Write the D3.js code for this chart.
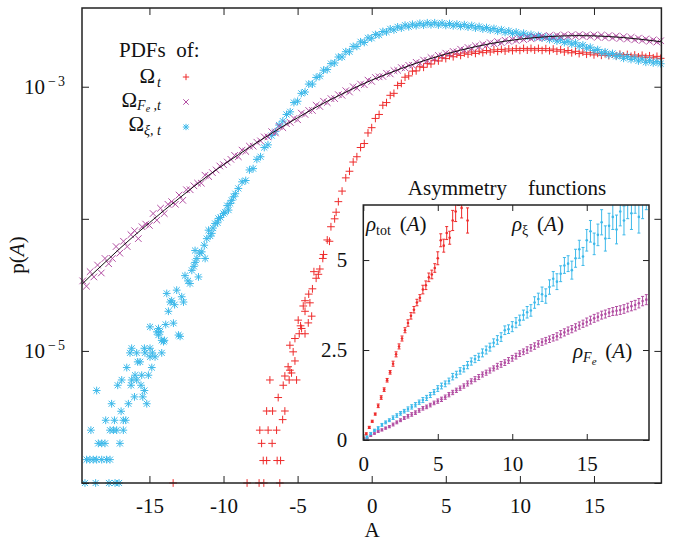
<!DOCTYPE html>
<html>
<head>
<meta charset="utf-8">
<script src="https://cdn.jsdelivr.net/npm/d3@7"></script>
<style>
  body { margin: 0; background: #fff; }
  svg text { font-family: "Liberation Serif", "Times New Roman", serif; fill: #111; }
</style>
</head>
<body>
<div id="chart"></div>
<script>
// ---- main panel: log10 p(A), regular grid in A ----
var feStart = -19.5, feStep = 0.25;
var pdfFe = [
  -4.47,-4.51,-4.40,-4.44,-4.35,-4.41,-4.30,-4.34,
  -4.30,-4.21,-4.26,-4.17,-4.21,-4.12,-4.09,-4.15,
  -4.06,-4.04,-4.05,-3.96,-4.01,-3.92,-3.96,-3.89,
  -3.87,-3.89,-3.82,-3.86,-3.78,-3.78,-3.75,-3.73,
  -3.73,-3.67,-3.68,-3.65,-3.63,-3.60,-3.59,-3.57,
  -3.55,-3.52,-3.53,-3.48,-3.49,-3.45,-3.45,-3.42,
  -3.41,-3.38,-3.38,-3.34,-3.35,-3.30,-3.31,-3.28,
  -3.27,-3.24,-3.25,-3.20,-3.21,-3.18,-3.18,-3.14,
  -3.15,-3.11,-3.12,-3.09,-3.09,-3.06,-3.065,-3.03,
  -3.04,-3.0,-3.01,-2.98,-2.985,-2.95,-2.96,-2.93,
  -2.925,-2.922,-2.898,-2.903,-2.878,-2.876,-2.855,-2.858,
  -2.838,-2.837,-2.815,-2.822,-2.798,-2.802,-2.779,-2.787,
  -2.763,-2.767,-2.746,-2.752,-2.733,-2.737,-2.716,-2.724,
  -2.703,-2.71,-2.69,-2.697,-2.679,-2.687,-2.667,-2.675,
  -2.658,-2.667,-2.648,-2.657,-2.641,-2.65,-2.633,-2.643,
  -2.627,-2.637,-2.621,-2.632,-2.617,-2.627,-2.613,-2.624,
  -2.611,-2.621,-2.608,-2.619,-2.607,-2.618,-2.606,-2.619,
  -2.608,-2.62,-2.608,-2.625,-2.609,-2.628,-2.613,-2.631,
  -2.616,-2.635,-2.621,-2.639,-2.626,-2.645,-2.632,-2.65,
  -2.638,-2.656,-2.645,-2.662,-2.652
];

var xiStart = -9, xiStep = 0.25;
var pdfXi = [
  -3.77,-3.72,-3.71,-3.63,-3.62,-3.55,-3.53,-3.46,
  -3.44,-3.37,-3.34,-3.29,-3.26,-3.21,-3.19,-3.12,
  -3.11,-3.05,-3.04,-2.98,-2.98,-2.93,-2.92,-2.875,
  -2.87,-2.825,-2.82,-2.775,-2.775,-2.735,-2.735,-2.695,
  -2.695,-2.66,-2.665,-2.63,-2.633,-2.605,-2.608,-2.582,
  -2.586,-2.562,-2.57,-2.547,-2.556,-2.534,-2.546,-2.527,
  -2.538,-2.52,-2.534,-2.516,-2.531,-2.516,-2.533,-2.518,
  -2.536,-2.522,-2.539,-2.526,-2.544,-2.53,-2.549,-2.536,
  -2.556,-2.544,-2.563,-2.552,-2.571,-2.559,-2.58,-2.568,
  -2.589,-2.577,-2.598,-2.586,-2.607,-2.595,-2.616,-2.604,
  -2.624,-2.612,-2.632,-2.622,-2.643,-2.632,-2.654,-2.644,
  -2.666,-2.656,-2.677,-2.668,-2.693,-2.684,-2.708,-2.701,
  -2.726,-2.719,-2.743,-2.736,-2.758,-2.748,-2.77,-2.762,
  -2.785,-2.772,-2.794,-2.782,-2.805,-2.79,-2.815,-2.80,
  -2.82,-2.81,-2.826
];
// sparse left tail of the xi pdf: [A, log10 p]
var tailXi = [
  [-19.35,-6.0],[-18.63,-6.0],[-17.73,-6.0],[-17.32,-6.0],[-17.05,-6.0],
  [-19.24,-5.823],[-19.02,-5.823],[-18.79,-5.823],[-18.56,-5.823],[-18.22,-5.823],[-17.89,-5.823],[-17.66,-5.823],
  [-18.45,-5.70],[-18.22,-5.70],[-18.0,-5.70],[-16.99,-5.70],
  [-18.95,-5.60],[-17.66,-5.60],[-17.43,-5.60],[-17.21,-5.60],[-16.76,-5.60],
  [-17.95,-5.525],[-17.36,-5.525],[-16.76,-5.525],[-16.6,-5.525],
  [-16.91,-5.457],[-17.55,-5.40],[-16.42,-5.40],[-15.18,-5.40],
  [-16.01,-5.348],[-15.45,-5.348],[-18.56,-5.30],[-15.34,-5.30],
  [-17.14,-5.26],[-16.24,-5.26],[-15.57,-5.26],
  [-16.87,-5.22],[-16.2,-5.22],[-15.86,-5.22],
  [-15.97,-5.184],[-15.52,-5.184],[-15.07,-5.184],
  [-16.53,-5.126],[-14.84,-5.126],[-15.79,-5.083],[-15.63,-5.083],
  [-14.96,-5.045],[-14.62,-5.045],
  [-16.31,-5.015],[-15.86,-5.015],[-15.3,-5.015],[-14.8,-5.015],[-14.17,-5.015],
  [-16.2,-4.98],[-15.34,-4.98],[-14.96,-4.98],
  [-14.17,-4.92],[-13.99,-4.92],[-14.05,-4.93],[-12.93,-4.89],[-13.04,-4.88],[-14.39,-4.88],
  [-14.5,-4.856],[-14.28,-4.856],[-14.39,-4.83],[-14.96,-4.818],[-13.38,-4.79],
  [-13.9,-4.80],[-13.72,-4.70],[-13.6,-4.63],[-12.7,-4.63],[-13.5,-4.62],[-13.3,-4.65],
  [-12.82,-4.59],[-13.83,-4.565],[-13.16,-4.54],[-12.26,-4.49],[-12.4,-4.47],
  [-11.69,-4.44],[-12.6,-4.43],[-12.14,-4.39],[-12.0,-4.36],[-11.92,-4.33],
  [-11.8,-4.30],[-11.24,-4.30],[-11.6,-4.26],[-11.47,-4.25],[-11.92,-4.24],
  [-11.3,-4.20],[-11.13,-4.15],[-10.9,-4.13],[-10.79,-4.11],[-11.01,-4.086],
  [-10.7,-4.07],[-10.57,-4.035],[-10.4,-4.03],[-10.34,-3.997],[-10.2,-3.99],
  [-10.0,-3.96],[-9.9,-3.95],[-9.66,-3.934],[-9.75,-3.90],[-9.55,-3.884],
  [-9.45,-3.86],[-9.32,-3.833],[-9.2,-3.81]
];

var totStart = -4.5, totStep = 0.25;
var pdfTot = [
  -4.62,-4.57,-4.53,-4.45,-4.38,-4.27,-4.16,-4.06,
  -4.00,-3.87,-3.79,-3.69,-3.64,-3.57,-3.53,-3.46,
  -3.43,-3.35,-3.31,-3.24,-3.21,-3.14,-3.12,-3.065,
  -3.05,-2.99,-2.975,-2.928,-2.918,-2.882,-2.88,-2.849,
  -2.853,-2.825,-2.828,-2.8,-2.805,-2.781,-2.787,-2.765,
  -2.773,-2.753,-2.763,-2.745,-2.754,-2.737,-2.748,-2.731,
  -2.742,-2.726,-2.737,-2.721,-2.733,-2.717,-2.73,-2.714,
  -2.727,-2.712,-2.725,-2.71,-2.723,-2.71,-2.723,-2.71,
  -2.725,-2.712,-2.727,-2.715,-2.731,-2.72,-2.737,-2.726,
  -2.743,-2.732,-2.749,-2.738,-2.754,-2.743,-2.759,-2.747,
  -2.762,-2.75,-2.764,-2.752,-2.766,-2.754,-2.768,-2.756,
  -2.77,-2.76,-2.774,-2.762,-2.777,-2.766,-2.781,-2.77,
  -2.785
];
var tailTot = [
  [-4.62,-4.66],[-4.17,-4.636],[-4.05,-4.737],[-4.5,-4.70],[-4.96,-4.767],[-4.28,-4.788],
  [-4.8,-4.81],[-4.73,-4.83],[-4.5,-4.87],[-4.89,-4.87],[-5.18,-4.906],[-5.52,-4.957],
  [-5.3,-5.007],[-5.18,-5.076],[-5.64,-5.12],[-5.52,-5.146],[-5.41,-5.167],[-5.86,-5.19],
  [-5.57,-5.22],[-5.07,-5.22],[-6.87,-5.22],[-5.97,-5.26],[-6.31,-5.353],
  [-7.09,-5.455],[-6.69,-5.455],[-5.86,-5.455],[-6.01,-5.52],
  [-7.55,-5.60],[-6.99,-5.60],[-6.42,-5.60],[-7.43,-5.70],[-6.72,-5.70],
  [-7.32,-5.83],[-7.09,-5.83],[-6.38,-5.83],[-6.15,-5.83],
  [-8.41,-6.0],[-7.6,-6.0],[-7.28,-6.0],[-6.2,-6.0],[-13.4,-6.0],
  [-3.9,-4.40],[-3.6,-4.42],[-3.3,-4.30],[-2.85,-4.17],[-2.4,-3.95]
];

// fitted curve through the F_e pdf
var fitA = [-19.55,-19,-18,-17,-16,-15,-14,-13,-12,-11,-10,-9,-8,-7,-6,-5,-4,-3,-2,-1,
            0,1,2,3,4,5,6,7,8,9,10,11,12,13,14,15,16,17,18,19,19.55];
var fitLog = [-4.495,-4.435,-4.33,-4.225,-4.125,-4.03,-3.935,-3.845,-3.755,-3.67,-3.59,-3.515,
              -3.44,-3.37,-3.30,-3.235,-3.17,-3.11,-3.055,-3.0,-2.95,-2.905,-2.862,-2.822,
              -2.786,-2.753,-2.723,-2.697,-2.674,-2.655,-2.64,-2.628,-2.62,-2.615,-2.613,
              -2.615,-2.62,-2.628,-2.639,-2.652,-2.66];

// ---- inset: asymmetry functions ----
var rhoStep = 0.25;
var rhoXi = [
  0.0,0.08,0.18,0.27,0.33,0.42,0.49,0.55,0.62,0.68,0.74,0.80,0.86,0.92,0.98,1.05,
  1.11,1.17,1.25,1.33,1.43,1.50,1.56,1.64,1.76,1.82,1.92,1.98,2.08,2.18,2.25,2.31,
  2.42,2.50,2.58,2.70,2.78,2.86,3.05,3.08,3.15,3.26,3.33,3.47,3.55,3.60,3.82,3.92,
  4.05,4.00,4.25,4.48,4.40,4.62,4.85,4.90,4.72,5.05,5.30,5.10,5.55,5.80,5.45,5.70,
  6.05,5.60,5.95,6.20,5.85,6.35,6.10,6.55,6.30,6.75,6.20,6.60,6.90
];
var rhoFe = [
  0.0,0.05,0.12,0.18,0.24,0.28,0.33,0.37,0.43,0.49,0.55,0.61,0.66,0.71,0.76,0.82,
  0.88,0.92,0.97,1.03,1.08,1.13,1.19,1.26,1.32,1.38,1.44,1.50,1.57,1.63,1.69,1.75,
  1.82,1.87,1.93,1.99,2.05,2.10,2.15,2.21,2.27,2.33,2.40,2.45,2.50,2.56,2.61,2.67,
  2.72,2.76,2.80,2.84,2.88,2.94,2.99,3.04,3.08,3.13,3.18,3.23,3.28,3.33,3.38,3.42,
  3.47,3.50,3.54,3.57,3.59,3.61,3.64,3.68,3.72,3.75,3.80,3.86,3.90
];
var rhoTotStep = 0.2;
var rhoTot = [
  0.05,0.17,0.35,0.52,0.72,0.95,1.18,1.40,1.66,1.88,2.12,2.38,2.60,2.82,3.05,3.25,
  3.45,3.62,3.82,3.95,4.18,4.30,4.52,4.60,4.78,5.05,5.55,5.40,5.75,5.62,6.10,6.35,
  6.80,6.45,7.0,6.1
];
// error bar half-widths, one per unit of A
var errXi = [0.03,0.04,0.05,0.06,0.07,0.08,0.09,0.1,0.11,0.12,0.14,0.16,0.2,0.22,0.25,0.3,0.35,0.4,0.45,0.5];
var errFe = [0.02,0.03,0.04,0.05,0.05,0.06,0.06,0.07,0.07,0.08,0.08,0.09,0.09,0.1,0.1,0.11,0.11,0.12,0.13,0.14];
var errTot = [0.03,0.05,0.07,0.09,0.12,0.18,0.28,0.35];

var mainTicksX = [-15, -10, -5, 0, 5, 10, 15];
var mainTicksY = [1e-6, 1e-5, 1e-4, 1e-3];
var mainLabelsY = [{v: 1e-3, e: "3"}, {v: 1e-5, e: "5"}];
var insetTicksX = [0, 5, 10, 15];
var insetTicksY = [0, 2.5, 5];

var colTot = "#ee2b2b", colFe = "#b24ea2", colXi = "#3db9ea";
var axisCol = "#222";
var serif = "'Liberation Serif', 'Times New Roman', serif";
var fs = 21;

var svg = d3.select("#chart").append("svg").attr("width", 682).attr("height", 541)
  .attr("font-family", serif);

var x = d3.scaleLinear().domain([-19.55, 19.55]).range([82, 661.4]);
var y = d3.scaleLog().domain([1e-6, Math.pow(10, -2.404)]).range([483, 8]);

// point symbols
var plusSym = {draw: function(c, s) {
  var r = Math.sqrt(s) / 2;
  c.moveTo(-r, 0); c.lineTo(r, 0); c.moveTo(0, -r); c.lineTo(0, r);
}};
var crossSym = {draw: function(c, s) {
  var r = Math.sqrt(s) / 2 * 0.85;
  c.moveTo(-r, -r); c.lineTo(r, r); c.moveTo(-r, r); c.lineTo(r, -r);
}};
var starSym = {draw: function(c, s) {
  plusSym.draw(c, s); crossSym.draw(c, s * 0.85);
}};

function gridPts(start, step, vals) {
  return vals.map(function(v, i) { return {a: start + i * step, p: Math.pow(10, v)}; });
}
function pairPts(arr) {
  return arr.map(function(d) { return {a: d[0], p: Math.pow(10, d[1])}; });
}

function drawPoints(pts, sym, size, color) {
  svg.append("g").selectAll("path").data(pts).enter().append("path")
    .attr("transform", function(d) { return "translate(" + x(d.a) + "," + y(d.p) + ")"; })
    .attr("d", d3.symbol().type(sym).size(size))
    .attr("fill", "none")
    .attr("stroke", color)
    .attr("stroke-width", 1);
}

drawPoints(gridPts(totStart, totStep, pdfTot).concat(pairPts(tailTot)), plusSym, 60, colTot);
drawPoints(gridPts(xiStart, xiStep, pdfXi).concat(pairPts(tailXi)), starSym, 60, colXi);
drawPoints(gridPts(feStart, feStep, pdfFe), crossSym, 60, colFe);

// fit line
svg.append("path")
  .datum(fitA.map(function(a, i) { return {a: a, p: Math.pow(10, fitLog[i])}; }))
  .attr("fill", "none")
  .attr("stroke", "#111")
  .attr("stroke-width", 1)
  .attr("d", d3.line().curve(d3.curveMonotoneX)
    .x(function(d) { return x(d.a); })
    .y(function(d) { return y(d.p); }));

// axes, ticks pointing inwards
function styleAxis(g) {
  g.select(".domain").remove();
  g.selectAll("line").attr("stroke", axisCol);
  g.attr("font-family", serif).attr("font-size", fs);
}
svg.append("g").attr("transform", "translate(0,483)")
  .call(d3.axisBottom(x).tickValues(mainTicksX).tickSize(-7).tickPadding(15).tickFormat(d3.format("d")))
  .call(styleAxis);
svg.append("g").attr("transform", "translate(0,8)")
  .call(d3.axisTop(x).tickValues(mainTicksX).tickSize(-7).tickFormat(""))
  .call(styleAxis);
svg.append("g").attr("transform", "translate(82,0)")
  .call(d3.axisLeft(y).tickValues(mainTicksY).tickSize(-7).tickFormat(""))
  .call(styleAxis);
svg.append("g").attr("transform", "translate(661.4,0)")
  .call(d3.axisRight(y).tickValues(mainTicksY).tickSize(-7).tickFormat(""))
  .call(styleAxis);
svg.selectAll(".tick text").text(function() { return this.textContent.replace("\u2212", "-"); });

svg.append("rect").attr("x", 82).attr("y", 8).attr("width", 661.4 - 82).attr("height", 475)
  .attr("fill", "none").attr("stroke", axisCol).attr("stroke-width", 1.5);

// y tick labels 10^-n
mainLabelsY.forEach(function(d) {
  var t = svg.append("text").attr("x", 65).attr("y", y(d.v) + 7).attr("text-anchor", "end").attr("font-size", fs);
  t.append("tspan").text("10");
  t.append("tspan").attr("dy", -8).attr("dx", 3).attr("font-size", 14).text("\u2212");
  t.append("tspan").attr("dx", 2).attr("font-size", 14).text(d.e);
});

// axis titles
svg.append("text").attr("x", 372).attr("y", 537).attr("text-anchor", "middle").attr("font-size", fs).text("A");
var yl = svg.append("text").attr("transform", "translate(24,255) rotate(-90)")
  .attr("text-anchor", "middle").attr("font-size", fs);
yl.append("tspan").text("p(");
yl.append("tspan").attr("font-style", "italic").text("A");
yl.append("tspan").text(")");

// legend
svg.append("text").attr("x", 119).attr("y", 57).attr("font-size", fs)
  .style("white-space", "pre").text("PDFs  of:");
var l1 = svg.append("text").attr("x", 161).attr("y", 83).attr("text-anchor", "end").attr("font-size", fs);
l1.append("tspan").text("\u03a9");
l1.append("tspan").attr("dy", 4).attr("dx", 2).attr("font-size", 14).attr("font-style", "italic").text("t");
var l2 = svg.append("text").attr("x", 161).attr("y", 107).attr("text-anchor", "end").attr("font-size", fs);
l2.append("tspan").text("\u03a9");
l2.append("tspan").attr("dy", 3).attr("font-size", 14).attr("font-style", "italic").text("F");
l2.append("tspan").attr("dy", 2).attr("font-size", 10).attr("font-style", "italic").text("e");
l2.append("tspan").attr("dy", -2).attr("font-size", 14).attr("font-style", "italic").style("white-space", "pre").text(" ,t");
var l3 = svg.append("text").attr("x", 161).attr("y", 131).attr("text-anchor", "end").attr("font-size", fs);
l3.append("tspan").text("\u03a9");
l3.append("tspan").attr("dy", 4).attr("font-size", 14).attr("font-style", "italic").text("\u03be, t");

[[plusSym, colTot, 77], [crossSym, colFe, 102], [starSym, colXi, 127]].forEach(function(d) {
  svg.append("path").attr("transform", "translate(186," + d[2] + ")")
    .attr("d", d3.symbol().type(d[0]).size(40))
    .attr("fill", "none").attr("stroke", d[1]).attr("stroke-width", 1);
});

// ---- inset ----
var xi = d3.scaleLinear().domain([0, 19.18]).range([363.3, 649]);
var yi = d3.scaleLinear().domain([0, 6.53]).range([440, 205]);

svg.append("rect").attr("x", 363.3).attr("y", 205).attr("width", 649 - 363.3).attr("height", 235)
  .attr("fill", "#fff");
svg.append("clipPath").attr("id", "insetClip").append("rect")
  .attr("x", 363.3).attr("y", 205).attr("width", 649 - 363.3).attr("height", 235);

function drawRho(vals, step, errs, color) {
  var pts = vals.map(function(v, i) {
    var a = i * step;
    return {a: a, v: v, e: errs[Math.min(Math.floor(a), errs.length - 1)]};
  });
  var g = svg.append("g").attr("clip-path", "url(#insetClip)")
    .attr("stroke", color).attr("stroke-width", 1);
  var eb = g.selectAll("g").data(pts).enter().append("g");
  eb.append("line")
    .attr("x1", function(d) { return xi(d.a); }).attr("x2", function(d) { return xi(d.a); })
    .attr("y1", function(d) { return yi(d.v - d.e); }).attr("y2", function(d) { return yi(d.v + d.e); });
  eb.append("line")
    .attr("x1", function(d) { return xi(d.a) - 1.5; }).attr("x2", function(d) { return xi(d.a) + 1.5; })
    .attr("y1", function(d) { return yi(d.v - d.e); }).attr("y2", function(d) { return yi(d.v - d.e); });
  eb.append("line")
    .attr("x1", function(d) { return xi(d.a) - 1.5; }).attr("x2", function(d) { return xi(d.a) + 1.5; })
    .attr("y1", function(d) { return yi(d.v + d.e); }).attr("y2", function(d) { return yi(d.v + d.e); });
  eb.append("circle")
    .attr("cx", function(d) { return xi(d.a); }).attr("cy", function(d) { return yi(d.v); })
    .attr("r", 1.3).attr("fill", color).attr("stroke", "none");
}
drawRho(rhoTot, rhoTotStep, errTot, colTot);
drawRho(rhoFe, rhoStep, errFe, colFe);
drawRho(rhoXi, rhoStep, errXi, colXi);

svg.append("g").attr("transform", "translate(0,440)")
  .call(d3.axisBottom(xi).tickValues(insetTicksX).tickSize(-6).tickPadding(16).tickFormat(d3.format("d")))
  .call(styleAxis);
svg.append("g").attr("transform", "translate(0,205)")
  .call(d3.axisTop(xi).tickValues(insetTicksX).tickSize(-6).tickFormat(""))
  .call(styleAxis);
svg.append("g").attr("transform", "translate(363.3,0)")
  .call(d3.axisLeft(yi).tickValues(insetTicksY).tickSize(-6).tickPadding(16).tickFormat(function(d) { return String(d); }))
  .call(styleAxis);
svg.append("g").attr("transform", "translate(649,0)")
  .call(d3.axisRight(yi).tickValues(insetTicksY).tickSize(-6).tickFormat(""))
  .call(styleAxis);

svg.append("rect").attr("x", 363.3).attr("y", 205).attr("width", 649 - 363.3).attr("height", 235)
  .attr("fill", "none").attr("stroke", axisCol).attr("stroke-width", 1.5);

svg.append("text").attr("x", 507).attr("y", 195).attr("text-anchor", "middle").attr("font-size", fs)
  .style("white-space", "pre").text("Asymmetry    functions");

function rhoLabel(xp, yp, build) {
  var t = svg.append("text").attr("x", xp).attr("y", yp).attr("font-size", fs).style("white-space", "pre");
  t.append("tspan").attr("font-style", "italic").text("\u03c1");
  build(t);
  t.append("tspan").text(" (");
  t.append("tspan").attr("font-style", "italic").text("A");
  t.append("tspan").text(")");
}
rhoLabel(366, 231, function(t) {
  t.append("tspan").attr("dy", 4).attr("font-size", 14).text("tot");
  t.append("tspan").attr("dy", -4).attr("font-size", 14).text(" ");
});
rhoLabel(512, 231, function(t) {
  t.append("tspan").attr("dy", 4).attr("font-size", 14).text("\u03be");
  t.append("tspan").attr("dy", -4).attr("font-size", 14).text(" ");
});
rhoLabel(573, 358, function(t) {
  t.append("tspan").attr("dy", 4).attr("font-size", 14).attr("font-style", "italic").text("F");
  t.append("tspan").attr("dy", 3).attr("font-size", 11).attr("font-style", "italic").text("e");
  t.append("tspan").attr("dy", -7).attr("font-size", 14).text(" ");
});
</script>
</body>
</html>
